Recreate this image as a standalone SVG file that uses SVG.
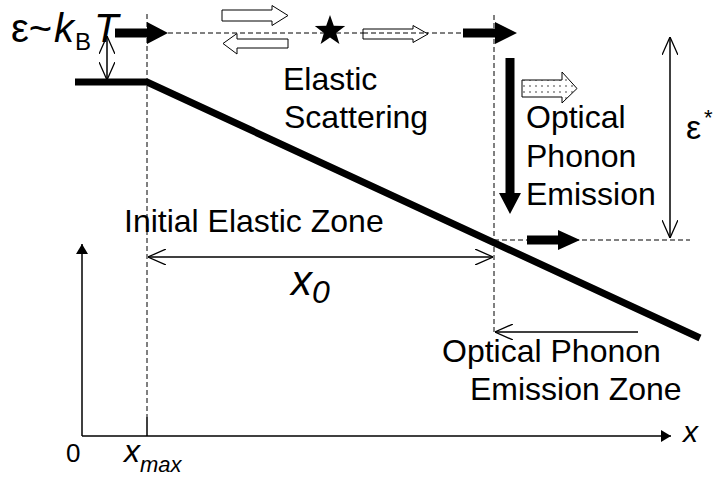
<svg xmlns="http://www.w3.org/2000/svg" width="718" height="480" viewBox="0 0 718 480">
<defs>
<style>
text{font-family:"Liberation Sans",Arial,sans-serif;fill:#000}
.t{font-size:32px}
.it{font-style:italic}
.dash{stroke:#000;stroke-width:1;stroke-dasharray:5 3;fill:none}
.thin{stroke:#000;stroke-width:1.5;fill:none}
.thick{stroke:#000;stroke-width:7;fill:none}
.hollow{fill:#fff;stroke:#000;stroke-width:1}
.solid{fill:#000;stroke:none}
</style>
<marker id="open" viewBox="0 0 18 16" refX="18" refY="8" markerWidth="18" markerHeight="16" markerUnits="userSpaceOnUse" orient="auto-start-reverse">
<path d="M0,0 L18,8 L0,16" fill="none" stroke="#000" stroke-width="1.3"/>
</marker>
<marker id="tri" viewBox="0 0 10 12" refX="10" refY="6" markerWidth="10" markerHeight="12" markerUnits="userSpaceOnUse" orient="auto">
<path d="M0,0 L10,6 L0,12 Z" fill="#000"/>
</marker>
<pattern id="dots" width="6" height="6" patternUnits="userSpaceOnUse">
<rect width="6" height="6" fill="#fff"/>
<circle cx="2" cy="2" r="0.7" fill="#000"/>
</pattern>
</defs>
<rect width="718" height="480" fill="#fff"/>

<g id="connectors">
<line class="thin" x1="82" y1="436" x2="82" y2="244" marker-end="url(#tri)"/>
<line class="thin" x1="82" y1="436" x2="671" y2="436" marker-end="url(#tri)"/>
<line class="dash" x1="147" y1="14" x2="147" y2="417"/>
<line class="thin" x1="147" y1="417" x2="147" y2="436"/>
<line class="dash" x1="494" y1="15" x2="494" y2="334"/>
<line class="dash" x1="168" y1="33" x2="463" y2="33"/>
<line class="dash" x1="494" y1="240" x2="690" y2="240"/>
<polyline class="thick" points="75,82 147,82 700,338"/>
<line class="thin" x1="107" y1="36" x2="107" y2="80" marker-start="url(#open)" marker-end="url(#open)"/>
<line class="thin" x1="670" y1="37" x2="670" y2="238" marker-start="url(#open)" marker-end="url(#open)"/>
<line class="thin" x1="148" y1="257" x2="493" y2="257" marker-start="url(#open)" marker-end="url(#open)"/>
<line class="thin" x1="638" y1="332" x2="495" y2="332" marker-end="url(#open)"/>
</g>

<g id="thick-arrows">
<polygon class="solid" points="115,28.5 147,28.5 147,22 168,33 147,44 147,37.5 115,37.5"/>
<polygon class="solid" points="463,28.5 495,28.5 495,22 517,33 495,44 495,37.5 463,37.5"/>
<polygon class="solid" points="527,235.5 558,235.5 558,230 580,240 558,250 558,244.5 527,244.5"/>
<polygon class="solid" points="505.5,58 514.5,58 514.5,193 521,193 510,214 499,193 505.5,193"/>
</g>

<g id="hollow-arrows">
<polygon class="hollow" points="222,10 272,10 272,5.5 288,15.5 272,25.5 272,21 222,21"/>
<polygon class="hollow" points="288,39 237,39 237,33.5 223,43.5 237,54 237,48 288,48"/>
<polygon class="hollow" points="363,29 413,29 413,25.5 428,34 413,42.5 413,39 363,39"/>
<line class="dash" x1="363" y1="33" x2="428" y2="33"/>
<polygon class="hollow" style="fill:url(#dots)" points="522,80 562,80 562,72 577,88.5 562,103 562,97 522,97"/>
</g>

<g id="star">
<polygon class="solid" transform="translate(330,31)" points="0,-16 3.8,-5.2 15.2,-4.9 6.1,2 9.4,12.9 0,6.5 -9.4,12.9 -6.1,2 -15.2,-4.9 -3.8,-5.2"/>
</g>

<g id="labels">
<text x="11" y="42" font-size="40">ε~<tspan x="54" class="it">k</tspan><tspan x="75" y="50" font-size="24">B</tspan><tspan x="94" y="42" class="it">T</tspan></text>
<text class="t" x="283" y="90">Elastic</text>
<text class="t" x="284" y="128">Scattering</text>
<text class="t" x="526" y="128">Optical</text>
<text class="t" x="526" y="167">Phonon</text>
<text class="t" x="526" y="205">Emission</text>
<text x="686" y="139" font-size="34">ε<tspan x="704" y="125" font-size="22">*</tspan></text>
<text class="t" x="124" y="232">Initial Elastic Zone</text>
<text x="291" y="295" font-size="42" class="it">x<tspan y="303" font-size="32">0</tspan></text>
<text class="t" x="442" y="362">Optical Phonon</text>
<text class="t" x="470" y="400">Emission Zone</text>
<text x="683" y="442" font-size="30" class="it">x</text>
<text x="66" y="462" font-size="26">0</text>
<text x="124" y="462" font-size="32" class="it">x<tspan y="472" font-size="22">max</tspan></text>
</g>
</svg>
